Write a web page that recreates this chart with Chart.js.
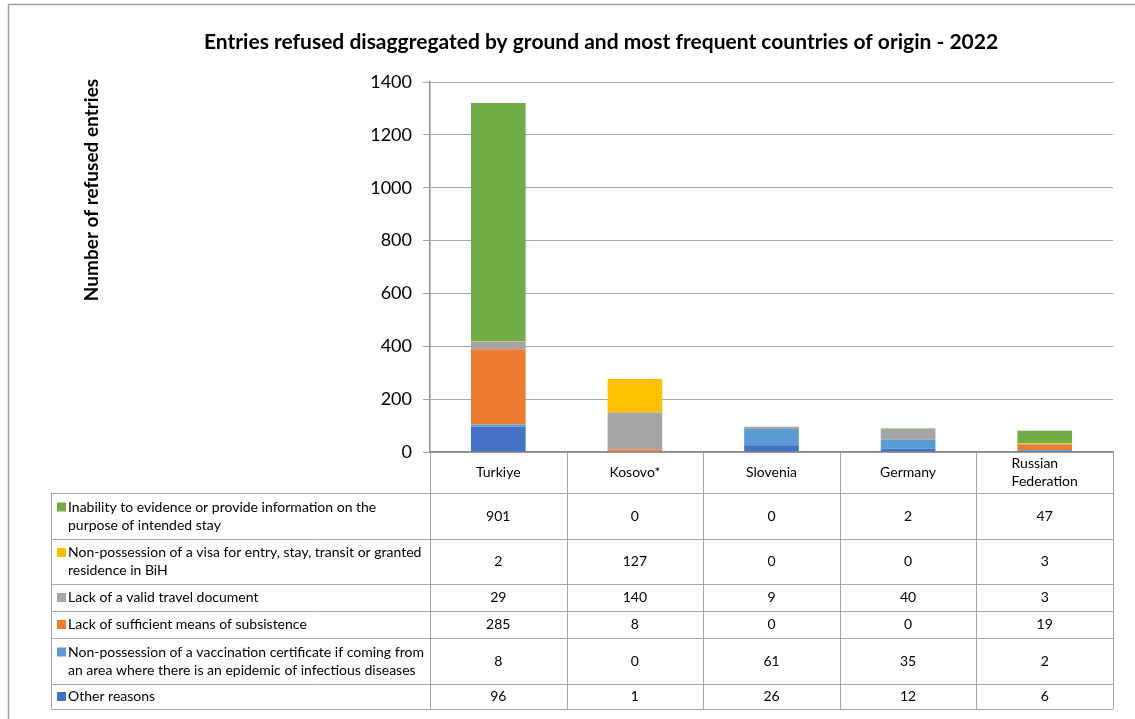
<!DOCTYPE html>
<html>
<head>
<meta charset="utf-8">
<title>Entries refused 2022</title>
<script src="https://cdn.jsdelivr.net/npm/chart.js@4.4.0/dist/chart.umd.min.js"></script>
<style>
  html, body { margin: 0; padding: 0; background: #fff; }
  #chart { display: block; }
</style>
</head>
<body>
<canvas id="chart" width="1135" height="719"></canvas>
<script>
// Países (categorias do eixo X)
const countries = ['Turkiye', 'Kosovo*', 'Slovenia', 'Germany', ['Russian', 'Federation']];

// Valores por motivo de recusa
const inability   = [901, 0, 0, 2, 47];
const visa        = [2, 127, 0, 0, 3];
const travelDoc   = [29, 140, 9, 40, 3];
const subsistence = [285, 8, 0, 0, 19];
const vaccination = [8, 0, 61, 35, 2];
const other       = [96, 1, 26, 12, 6];

// Rótulos das linhas da tabela (já quebrados em linhas)
const labelInability   = ['Inability to evidence or provide information on the', 'purpose of intended stay'];
const labelVisa        = ['Non-possession of a visa for entry, stay, transit or granted', 'residence in BiH'];
const labelTravelDoc   = ['Lack of a valid travel document'];
const labelSubsistence = ['Lack of sufficient means of subsistence'];
const labelVaccination = ['Non-possession of a vaccination certificate if coming from', 'an area where there is an epidemic of infectious diseases'];
const labelOther       = ['Other reasons'];

// Eixo Y
const yTicks = [0, 200, 400, 600, 800, 1000, 1200, 1400];

const FONT = 'Lato, "Open Sans", sans-serif';

// Datasets em ordem de empilhamento (de baixo para cima)
const datasets = [
    { label: labelOther,       data: other,       backgroundColor: '#4472C4' },
    { label: labelVaccination, data: vaccination, backgroundColor: '#5B9BD5' },
    { label: labelSubsistence, data: subsistence, backgroundColor: '#ED7D31' },
    { label: labelTravelDoc,   data: travelDoc,   backgroundColor: '#A5A5A5' },
    { label: labelVisa,        data: visa,        backgroundColor: '#FFC000' },
    { label: labelInability,   data: inability,   backgroundColor: '#70AD47' }
];

// Alturas das linhas da tabela (de cima para baixo)
const headerHeight = 41;
const rowHeights = [46, 45, 27, 27, 46, 25];
const labelColLeft = 51;

// Moldura, título e título do eixo Y
const framePlugin = {
    id: 'frame',
    beforeDraw(chart) {
        const ctx = chart.ctx;
        ctx.save();
        ctx.strokeStyle = '#A0A0A0';
        ctx.lineWidth = 1.5;
        ctx.beginPath();
        ctx.moveTo(8.5, 719);
        ctx.lineTo(8.5, 4.5);
        ctx.lineTo(1135, 4.5);
        ctx.stroke();
        ctx.restore();
    },
    afterDraw(chart) {
        const ctx = chart.ctx;
        ctx.save();
        ctx.fillStyle = '#000';
        ctx.font = 'bold 21px ' + FONT;
        ctx.textAlign = 'center';
        ctx.textBaseline = 'middle';
        ctx.fillText('Entries refused disaggregated by ground and most frequent countries of origin - 2022', 601, 42);

        ctx.translate(92, 190);
        ctx.rotate(-Math.PI / 2);
        ctx.font = 'bold 19px ' + FONT;
        ctx.fillText('Number of refused entries', 0, 0);
        ctx.restore();
    }
};

// Tabela de dados abaixo do gráfico
const tablePlugin = {
    id: 'dataTable',
    afterDraw(chart) {
        const { ctx, chartArea } = chart;
        const xScale = chart.scales.x;
        const n = countries.length;
        const colW = (chartArea.right - chartArea.left) / n;
        const top = chartArea.bottom;
        const bodyTop = top + headerHeight;
        const bottom = bodyTop + rowHeights.reduce((a, b) => a + b, 0);
        const left = chartArea.left;
        const right = chartArea.right;

        ctx.save();
        ctx.strokeStyle = '#A6A6A6';
        ctx.lineWidth = 1;
        ctx.beginPath();
        // Linhas verticais das colunas de países
        for (let i = 0; i <= n; i++) {
            const x = Math.round(left + i * colW) + 0.5;
            ctx.moveTo(x, top);
            ctx.lineTo(x, bottom);
        }
        // Borda esquerda da coluna de rótulos
        ctx.moveTo(labelColLeft + 0.5, bodyTop);
        ctx.lineTo(labelColLeft + 0.5, bottom);
        // Linhas horizontais
        let y = bodyTop;
        ctx.moveTo(labelColLeft, Math.round(y) + 0.5);
        ctx.lineTo(right, Math.round(y) + 0.5);
        rowHeights.forEach(h => {
            y += h;
            ctx.moveTo(labelColLeft, Math.round(y) + 0.5);
            ctx.lineTo(right, Math.round(y) + 0.5);
        });
        ctx.stroke();

        ctx.fillStyle = '#000';
        ctx.font = '14px ' + FONT;
        ctx.textBaseline = 'middle';

        // Cabeçalho com os países
        countries.forEach((c, i) => {
            const cx = xScale.getPixelForValue(i);
            const lines = Array.isArray(c) ? c : [c];
            const cy = top + headerHeight / 2;
            if (lines.length === 1) {
                ctx.textAlign = 'center';
                ctx.fillText(lines[0], cx, cy);
            } else {
                const maxW = Math.max(...lines.map(l => ctx.measureText(l).width));
                ctx.textAlign = 'left';
                lines.forEach((l, k) => {
                    ctx.fillText(l, cx - maxW / 2, cy + (k - (lines.length - 1) / 2) * 18);
                });
            }
        });

        // Linhas da tabela: ordem inversa do empilhamento
        const rows = datasets.slice().reverse();
        let rowTop = bodyTop;
        rows.forEach((ds, r) => {
            const h = rowHeights[r];
            const cy = rowTop + h / 2;
            const lines = ds.label;
            const firstY = cy - (lines.length - 1) * 9;

            // Quadrado da legenda
            ctx.fillStyle = ds.backgroundColor;
            ctx.fillRect(57, firstY - 4.5, 9, 9);

            ctx.fillStyle = '#000';
            ctx.textAlign = 'left';
            lines.forEach((l, k) => ctx.fillText(l, 68, firstY + k * 18));

            ctx.textAlign = 'center';
            ds.data.forEach((v, i) => {
                ctx.fillText(String(v), xScale.getPixelForValue(i), cy);
            });
            rowTop += h;
        });
        ctx.restore();
    }
};

new Chart(document.getElementById('chart'), {
    type: 'bar',
    data: {
        labels: countries,
        datasets: datasets.map(d => ({
            label: d.label.join(' '),
            data: d.data,
            backgroundColor: d.backgroundColor,
            borderWidth: 0,
            categoryPercentage: 1.0,
            barPercentage: 0.4
        }))
    },
    options: {
        responsive: false,
        animation: false,
        devicePixelRatio: 1,
        layout: { padding: { top: 82, right: 22, bottom: 267, left: 0 } },
        plugins: {
            legend: { display: false },
            title: { display: false },
            tooltip: { enabled: false }
        },
        scales: {
            x: {
                stacked: true,
                grid: { display: false },
                ticks: { display: false },
                border: { display: true, color: '#8C8C8C', width: 1.5 },
                afterFit(scale) { scale.height = 0; }
            },
            y: {
                stacked: true,
                min: 0,
                max: 1400,
                afterBuildTicks(scale) { scale.ticks = yTicks.map(v => ({ value: v })); },
                ticks: {
                    font: { family: FONT, size: 18 },
                    color: '#000',
                    padding: 11,
                    callback: v => String(v)
                },
                grid: { color: '#A6A6A6', lineWidth: 1, tickLength: 7 },
                border: { display: true, color: '#8C8C8C', width: 1.5 },
                afterFit(scale) { scale.width = 430; }
            }
        }
    },
    plugins: [framePlugin, tablePlugin]
});
</script>
</body>
</html>
